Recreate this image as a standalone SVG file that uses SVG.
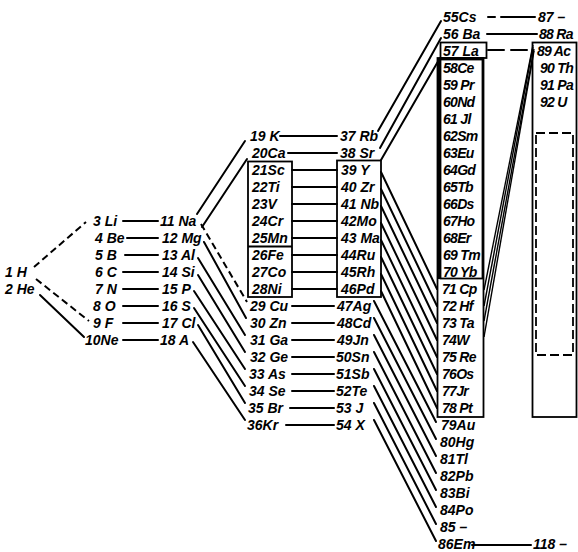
<svg xmlns="http://www.w3.org/2000/svg" width="578" height="552" viewBox="0 0 578 552">
<style>
text{font-family:"Liberation Sans",Arial,sans-serif;font-style:italic;font-weight:bold;font-size:14px;fill:#000}
.c{letter-spacing:-0.7px}
.ln{stroke:#000;stroke-width:2;fill:none;stroke-linecap:round}
.dl{stroke:#000;stroke-width:2;fill:none;stroke-dasharray:7 4}
.bn{stroke:#000;stroke-width:1.4;fill:none}
.bx{stroke:#000;stroke-width:1.8;fill:none}
.db{stroke:#000;stroke-width:1.8;fill:none;stroke-dasharray:9 4}
</style>
<rect width="578" height="552" fill="#fff"/>
<g id="frames">
<rect class="bx" x="248" y="161.5" width="44" height="135.5"/>
<line class="bx" x1="248" y1="246.5" x2="292" y2="246.5"/>
<rect class="bx" x="337" y="160.5" width="44" height="136.5"/>
<rect class="bx" x="440.5" y="42.5" width="46" height="15.5"/>
<rect class="bx" x="437.5" y="58" width="46" height="359"/>
<rect class="bx" x="440.5" y="59.5" width="42" height="219"/>
<line x1="439" y1="58" x2="439" y2="279" stroke="#000" stroke-width="3"/>
<rect class="bx" x="532.5" y="42.5" width="44" height="374.5"/>
<rect class="db" x="536" y="133" width="37" height="222"/>
</g>
<g id="connectors">
<line class="dl" x1="34" y1="267" x2="86" y2="222"/>
<line class="dl" x1="36" y1="279" x2="89" y2="321"/>
<line class="ln" x1="40" y1="295" x2="84" y2="337"/>
<line class="ln" x1="123" y1="221" x2="158" y2="221"/>
<line class="ln" x1="127" y1="238" x2="158" y2="238"/>
<line class="ln" x1="125" y1="255" x2="158" y2="255"/>
<line class="ln" x1="123" y1="272" x2="158" y2="272"/>
<line class="ln" x1="123" y1="289" x2="158" y2="289"/>
<line class="ln" x1="123" y1="306" x2="158" y2="306"/>
<line class="ln" x1="123" y1="323" x2="158" y2="323"/>
<line class="ln" x1="123" y1="340" x2="158" y2="340"/>
<line class="ln" x1="197" y1="214" x2="245" y2="141"/>
<line class="ln" x1="202" y1="227" x2="247" y2="159"/>
<line class="dl" x1="201" y1="224" x2="247" y2="302"/>
<line class="ln" x1="204" y1="242" x2="246" y2="318"/>
<line class="ln" x1="198" y1="258" x2="245" y2="335"/>
<line class="ln" x1="198" y1="275" x2="245" y2="352"/>
<line class="ln" x1="194" y1="291" x2="245" y2="369"/>
<line class="ln" x1="194" y1="308" x2="245" y2="386"/>
<line class="ln" x1="198" y1="325" x2="245" y2="403"/>
<line class="ln" x1="193" y1="342" x2="245" y2="420"/>
<line class="ln" x1="280" y1="136" x2="337" y2="136"/>
<line class="ln" x1="288" y1="153" x2="337" y2="153"/>
<line class="ln" x1="292" y1="170" x2="337" y2="170"/>
<line class="ln" x1="292" y1="187" x2="337" y2="187"/>
<line class="ln" x1="292" y1="204" x2="337" y2="204"/>
<line class="ln" x1="292" y1="221" x2="337" y2="221"/>
<line class="ln" x1="292" y1="238" x2="337" y2="238"/>
<line class="ln" x1="292" y1="255" x2="337" y2="255"/>
<line class="ln" x1="292" y1="272" x2="337" y2="272"/>
<line class="ln" x1="292" y1="289" x2="337" y2="289"/>
<line class="ln" x1="292" y1="306" x2="334" y2="306"/>
<line class="ln" x1="292" y1="323" x2="334" y2="323"/>
<line class="ln" x1="292" y1="340" x2="334" y2="340"/>
<line class="ln" x1="292" y1="357" x2="334" y2="357"/>
<line class="ln" x1="292" y1="374" x2="334" y2="374"/>
<line class="ln" x1="292" y1="391" x2="334" y2="391"/>
<line class="ln" x1="290" y1="408" x2="334" y2="408"/>
<line class="ln" x1="286" y1="425" x2="334" y2="425"/>
<line class="ln" x1="378" y1="131" x2="441" y2="21"/>
<line class="ln" x1="380" y1="148" x2="441" y2="38"/>
<line class="ln" x1="381" y1="160" x2="440" y2="58"/>
<line class="ln" x1="381" y1="172" x2="437" y2="289"/>
<line class="ln" x1="381" y1="189" x2="437" y2="306"/>
<line class="ln" x1="381" y1="206" x2="437" y2="323"/>
<line class="ln" x1="381" y1="223" x2="437" y2="340"/>
<line class="ln" x1="381" y1="240" x2="437" y2="357"/>
<line class="ln" x1="381" y1="257" x2="437" y2="374"/>
<line class="ln" x1="381" y1="274" x2="437" y2="391"/>
<line class="ln" x1="381" y1="291" x2="437" y2="408"/>
<line class="ln" x1="374" y1="301" x2="436" y2="422"/>
<line class="ln" x1="374" y1="318" x2="436" y2="439"/>
<line class="ln" x1="374" y1="335" x2="436" y2="456"/>
<line class="ln" x1="374" y1="352" x2="436" y2="473"/>
<line class="ln" x1="374" y1="369" x2="436" y2="490"/>
<line class="ln" x1="374" y1="386" x2="436" y2="507"/>
<line class="ln" x1="374" y1="403" x2="436" y2="524"/>
<line class="ln" x1="374" y1="420" x2="436" y2="541"/>
<line class="ln" x1="488" y1="17" x2="495" y2="17"/>
<line class="ln" x1="501" y1="17" x2="535" y2="17"/>
<line class="ln" x1="487" y1="34" x2="537" y2="34"/>
<line class="ln" x1="488" y1="50" x2="504" y2="50"/>
<line class="ln" x1="511" y1="50" x2="527" y2="50"/>
<line class="ln" x1="472" y1="545" x2="531" y2="545"/>
<line class="bn" x1="533" y1="45" x2="484" y2="290"/>
<line class="bn" x1="533" y1="47" x2="484" y2="306"/>
<line class="bn" x1="534" y1="49" x2="484" y2="321"/>
<line class="bn" x1="534" y1="51" x2="484" y2="337"/>
</g>
<g id="H"><text x="5" y="276.5">1 H</text></g>
<g id="He"><text x="5" y="293.5">2 He</text></g>
<g id="Li"><text x="93" y="225.5">3 Li</text></g>
<g id="Be"><text x="95" y="242.5">4 Be</text></g>
<g id="B"><text x="95" y="259.5">5 B</text></g>
<g id="C"><text x="95" y="276.5">6 C</text></g>
<g id="N"><text x="95" y="293.5">7 N</text></g>
<g id="O"><text x="93" y="310.5">8 O</text></g>
<g id="F"><text x="93" y="327.5">9 F</text></g>
<g id="Ne"><text x="85" y="344.5">10Ne</text></g>
<g id="Na"><text x="160" y="225.5">11 Na</text></g>
<g id="Mg"><text x="162" y="242.5">12 Mg</text></g>
<g id="Al"><text x="162" y="259.5">13 Al</text></g>
<g id="Si"><text x="162" y="276.5">14 Si</text></g>
<g id="P"><text x="162" y="293.5">15 P</text></g>
<g id="S"><text x="162" y="310.5">16 S</text></g>
<g id="Cl"><text x="162" y="327.5">17 Cl</text></g>
<g id="Ar"><text x="160" y="344.5">18 A</text></g>
<g id="K"><text x="250" y="140.5">19 K</text></g>
<g id="Ca"><text x="252" y="157.5">20Ca</text></g>
<g id="Sc"><text x="252" y="174.5">21Sc</text></g>
<g id="Ti"><text x="252" y="191.5">22Ti</text></g>
<g id="V"><text x="252" y="208.5">23V</text></g>
<g id="Cr"><text x="252" y="225.5">24Cr</text></g>
<g id="Mn"><text x="252" y="242.5">25Mn</text></g>
<g id="Fe"><text x="252" y="259.5">26Fe</text></g>
<g id="Co"><text x="252" y="276.5">27Co</text></g>
<g id="Ni"><text x="252" y="293.5">28Ni</text></g>
<g id="Cu"><text x="250" y="310.5">29 Cu</text></g>
<g id="Zn"><text x="250" y="327.5">30 Zn</text></g>
<g id="Ga"><text x="250" y="344.5">31 Ga</text></g>
<g id="Ge"><text x="250" y="361.5">32 Ge</text></g>
<g id="As"><text x="249" y="378.5">33 As</text></g>
<g id="Se"><text x="249" y="395.5">34 Se</text></g>
<g id="Br"><text x="248" y="412.5">35 Br</text></g>
<g id="Kr"><text x="247" y="429.5">36Kr</text></g>
<g id="Rb"><text x="340" y="140.5">37 Rb</text></g>
<g id="Sr"><text x="340" y="157.5">38 Sr</text></g>
<g id="Y"><text x="341" y="174.5">39 Y</text></g>
<g id="Zr"><text x="341" y="191.5">40 Zr</text></g>
<g id="Nb"><text x="341" y="208.5">41 Nb</text></g>
<g id="Mo"><text x="341" y="225.5">42Mo</text></g>
<g id="Ma"><text x="341" y="242.5">43 Ma</text></g>
<g id="Ru"><text x="341" y="259.5">44Ru</text></g>
<g id="Rh"><text x="341" y="276.5">45Rh</text></g>
<g id="Pd"><text x="341" y="293.5">46Pd</text></g>
<g id="Ag"><text x="337" y="310.5">47Ag</text></g>
<g id="Cd"><text x="337" y="327.5">48Cd</text></g>
<g id="In"><text x="337" y="344.5">49Jn</text></g>
<g id="Sn"><text x="336" y="361.5">50Sn</text></g>
<g id="Sb"><text x="336" y="378.5">51Sb</text></g>
<g id="Te"><text x="336" y="395.5">52Te</text></g>
<g id="I"><text x="336" y="412.5">53 J</text></g>
<g id="X"><text x="336" y="429.5">54 X</text></g>
<g id="Cs"><text x="443" y="21.5">55Cs</text></g>
<g id="Ba"><text x="443" y="38.5">56 Ba</text></g>
<g id="La"><text x="443" y="55.5">57 La</text></g>
<g id="Ce"><text class="c" x="443" y="72.5">58Ce</text></g>
<g id="Pr"><text class="c" x="443" y="89.5">59 Pr</text></g>
<g id="Nd"><text class="c" x="443" y="106.5">60Nd</text></g>
<g id="Il"><text class="c" x="443" y="123.5">61 Jl</text></g>
<g id="Sm"><text class="c" x="443" y="140.5">62Sm</text></g>
<g id="Eu"><text class="c" x="443" y="157.5">63Eu</text></g>
<g id="Gd"><text class="c" x="443" y="174.5">64Gd</text></g>
<g id="Tb"><text class="c" x="443" y="191.5">65Tb</text></g>
<g id="Ds"><text class="c" x="443" y="208.5">66Ds</text></g>
<g id="Ho"><text class="c" x="443" y="225.5">67Ho</text></g>
<g id="Er"><text class="c" x="443" y="242.5">68Er</text></g>
<g id="Tm"><text class="c" x="443" y="259.5">69 Tm</text></g>
<g id="Yb"><text class="c" x="443" y="276.5">70 Yb</text></g>
<g id="Cp"><text class="c" x="442" y="293.5">71 Cp</text></g>
<g id="Hf"><text class="c" x="442" y="310.5">72 Hf</text></g>
<g id="Ta"><text class="c" x="442" y="327.5">73 Ta</text></g>
<g id="W"><text class="c" x="442" y="344.5">74W</text></g>
<g id="Re"><text class="c" x="442" y="361.5">75 Re</text></g>
<g id="Os"><text class="c" x="442" y="378.5">76Os</text></g>
<g id="Ir"><text class="c" x="442" y="395.5">77Jr</text></g>
<g id="Pt"><text class="c" x="442" y="412.5">78 Pt</text></g>
<g id="Au"><text x="441" y="429.5">79Au</text></g>
<g id="Hg"><text x="440" y="446.5">80Hg</text></g>
<g id="Tl"><text x="440" y="463.5">81Tl</text></g>
<g id="Pb"><text x="440" y="480.5">82Pb</text></g>
<g id="Bi"><text x="440" y="497.5">83Bi</text></g>
<g id="Po"><text x="440" y="514.5">84Po</text></g>
<g id="e85"><text x="440" y="531.5">85 –</text></g>
<g id="Em"><text x="438" y="548.5">86Em</text></g>
<g id="e87"><text x="538" y="21.5">87 –</text></g>
<g id="Ra"><text class="c" x="539" y="38.5">88 Ra</text></g>
<g id="Ac"><text class="c" x="537" y="55.5">89 Ac</text></g>
<g id="Th"><text class="c" x="540" y="72.5">90 Th</text></g>
<g id="Pa"><text class="c" x="540" y="89.5">91 Pa</text></g>
<g id="U"><text class="c" x="540" y="106.5">92 U</text></g>
<g id="e118"><text x="533" y="548.5">118 –</text></g>
</svg>
